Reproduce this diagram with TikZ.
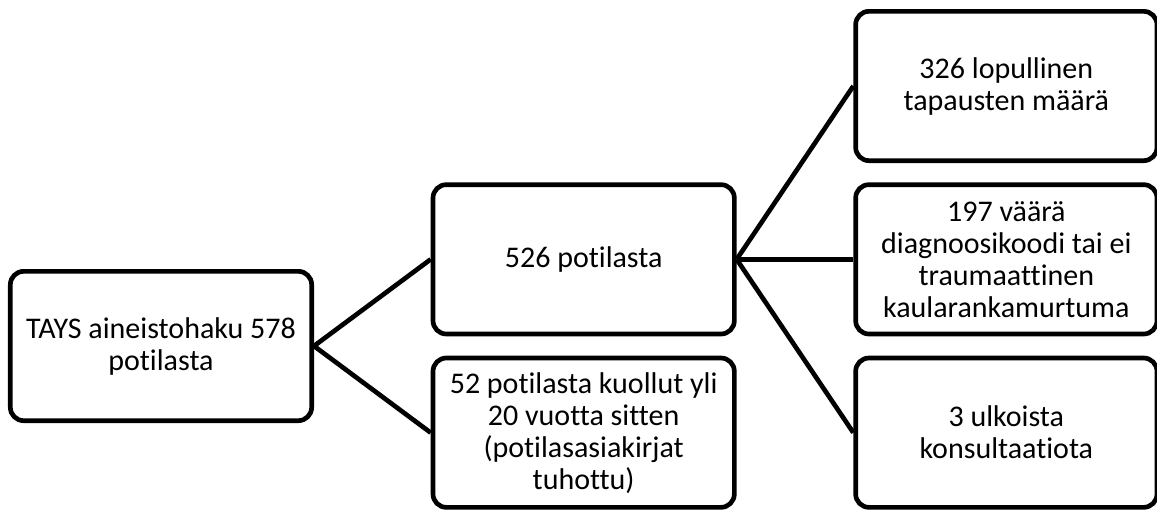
\documentclass[tikz,border=0pt]{standalone}
\usepackage{fontspec}
\setmainfont{Carlito}[Ligatures=NoCommon,Contextuals=NoAlternate]
\usetikzlibrary{positioning}

\begin{document}
\begin{tikzpicture}[node distance=317pt,stage/.style={draw,line width=3.5pt,rounded corners=10pt,minimum width=226pt,minimum height=112pt,align=center,font=\fontsize{22.5}{24}\selectfont},link/.style={line width=3.5pt}]

\useasboundingbox (-120.75pt,-124.5pt) rectangle (747pt,259.5pt);

% Nodes
\node[stage] (haku) {TAYS aineistohaku 578\\potilasta};
\node[stage,right of = haku,yshift=65pt] (potilaat) {526 potilasta};
\node[stage,right of = haku,yshift=-65pt] (kuolleet) {52 potilasta kuollut yli\\20 vuotta sitten\\(potilasasiakirjat\\tuhottu)};
\node[stage,right of = potilaat,yshift=130pt] (lopullinen) {326 lopullinen\\tapausten määrä};
\node[stage,right of = potilaat] (vaarat) {197 väärä\\diagnoosikoodi tai ei\\traumaattinen\\kaularankamurtuma};
\node[stage,right of = potilaat,yshift=-130pt] (ulkoiset) {3 ulkoista\\konsultaatiota};

%lines
\path (haku.east) edge[link] (potilaat.west);
\path (haku.east) edge[link] (kuolleet.west);
\path (potilaat.east) edge[link] (lopullinen.west);
\path (potilaat.east) edge[link] (vaarat.west);
\path (potilaat.east) edge[link] (ulkoiset.west);

\end{tikzpicture}
\end{document}
